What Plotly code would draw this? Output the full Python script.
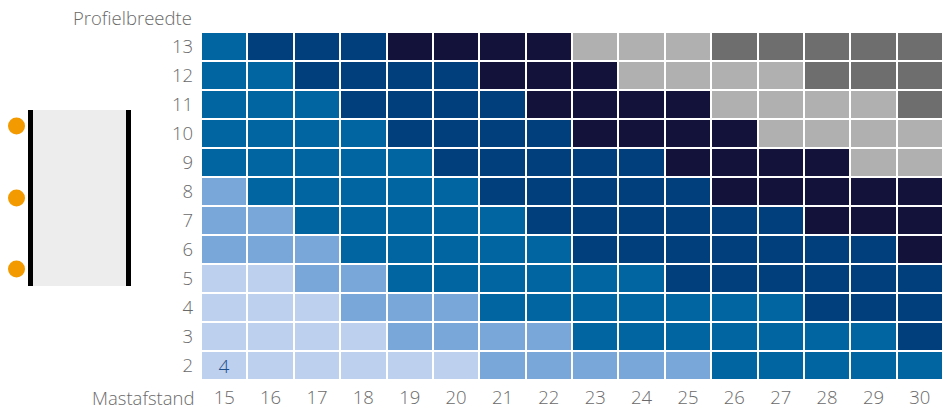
import plotly.graph_objects as go

# Data
mastafstand = list(range(15, 31))          # x categories
profielbreedte = list(range(2, 14))        # y categories
# category codes per row (rows 2..13), columns 15..30
rows = {
    2:  [1,1,1,1,1,1,2,2,2,2,2,3,3,3,3,3],
    3:  [1,1,1,1,2,2,2,2,3,3,3,3,3,3,3,4],
    4:  [1,1,1,2,2,2,3,3,3,3,3,3,3,4,4,4],
    5:  [1,1,2,2,3,3,3,3,3,3,4,4,4,4,4,4],
    6:  [2,2,2,3,3,3,3,3,4,4,4,4,4,4,4,5],
    7:  [2,2,3,3,3,3,3,4,4,4,4,4,4,5,5,5],
    8:  [2,3,3,3,3,3,4,4,4,4,4,5,5,5,5,5],
    9:  [3,3,3,3,3,4,4,4,4,4,5,5,5,5,6,6],
    10: [3,3,3,3,4,4,4,4,5,5,5,5,6,6,6,6],
    11: [3,3,3,4,4,4,4,5,5,5,5,6,6,6,6,7],
    12: [3,3,4,4,4,4,5,5,5,6,6,6,6,7,7,7],
    13: [3,4,4,4,5,5,5,5,6,6,6,7,7,7,7,7],
}
cell_labels = {(15, 2): "4"}
category_colors = ["#BDD0ED", "#7AA7DA", "#0065A1", "#003F7B", "#13123B", "#B0B0B0", "#6E6E6E"]

z = [rows[r] for r in profielbreedte]
text = [[cell_labels.get((c, r), "") for c in mastafstand] for r in profielbreedte]

n = len(category_colors)
colorscale = []
for i, col in enumerate(category_colors):
    colorscale.append([i / n, col])
    colorscale.append([(i + 1) / n, col])

FONT = "Open Sans"
W, H = 943, 409
fig = go.Figure(go.Heatmap(
    x=mastafstand, y=profielbreedte, z=z, text=text,
    texttemplate="%{text}", textfont=dict(size=19, color="#1F4E8C", family=FONT, weight=300),
    colorscale=colorscale, zmin=0.5, zmax=n + 0.5, showscale=False,
    xgap=2, ygap=2, hoverinfo="skip",
))

tickfont = dict(family=FONT, size=18.5, color="#6A6A6A", weight=300)
fig.update_layout(
    width=W, height=H, margin=dict(l=0, r=0, t=0, b=0),
    paper_bgcolor="white", plot_bgcolor="white",
    xaxis=dict(domain=[201 / W, 1], range=[14.5, 30.5], tickvals=mastafstand,
               ticks="", showgrid=False, zeroline=False, tickfont=tickfont,
               ticklabelstandoff=4, automargin=False),
    yaxis=dict(domain=[29 / H, 377 / H], range=[1.5, 13.5], tickvals=profielbreedte,
               ticks="", showgrid=False, zeroline=False, tickfont=tickfont,
               ticklabelstandoff=7, automargin=False),
    showlegend=False,
)

def px(x):
    return x / W

def py(y):
    return 1 - y / H

fig.add_annotation(text="Mastafstand", x=px(196), y=py(397), xref="paper", yref="paper",
                   xanchor="right", yanchor="middle", showarrow=False, font=tickfont)
fig.add_annotation(text="Profielbreedte", x=px(194), y=py(17), xref="paper", yref="paper",
                   xanchor="right", yanchor="middle", showarrow=False, font=tickfont)

# illustration
fig.add_shape(type="rect", xref="paper", yref="paper", x0=px(29), x1=px(131), y0=py(286), y1=py(110),
              fillcolor="#EDEDED", line=dict(width=0), layer="above")
for x0, x1 in [(28, 33), (126, 131)]:
    fig.add_shape(type="rect", xref="paper", yref="paper", x0=px(x0), x1=px(x1), y0=py(286), y1=py(110),
                  fillcolor="#000000", line=dict(width=0), layer="above")
for cy in [126, 198, 269]:
    r = 8.5
    fig.add_shape(type="circle", xref="paper", yref="paper", x0=px(16.5 - r), x1=px(16.5 + r),
                  y0=py(cy + r), y1=py(cy - r), fillcolor="#F29A00", line=dict(width=0), layer="above")

fig.write_html("out.html", config={"displayModeBar": False},
               post_script="document.body.style.margin='0';document.body.style.overflow='hidden';")
